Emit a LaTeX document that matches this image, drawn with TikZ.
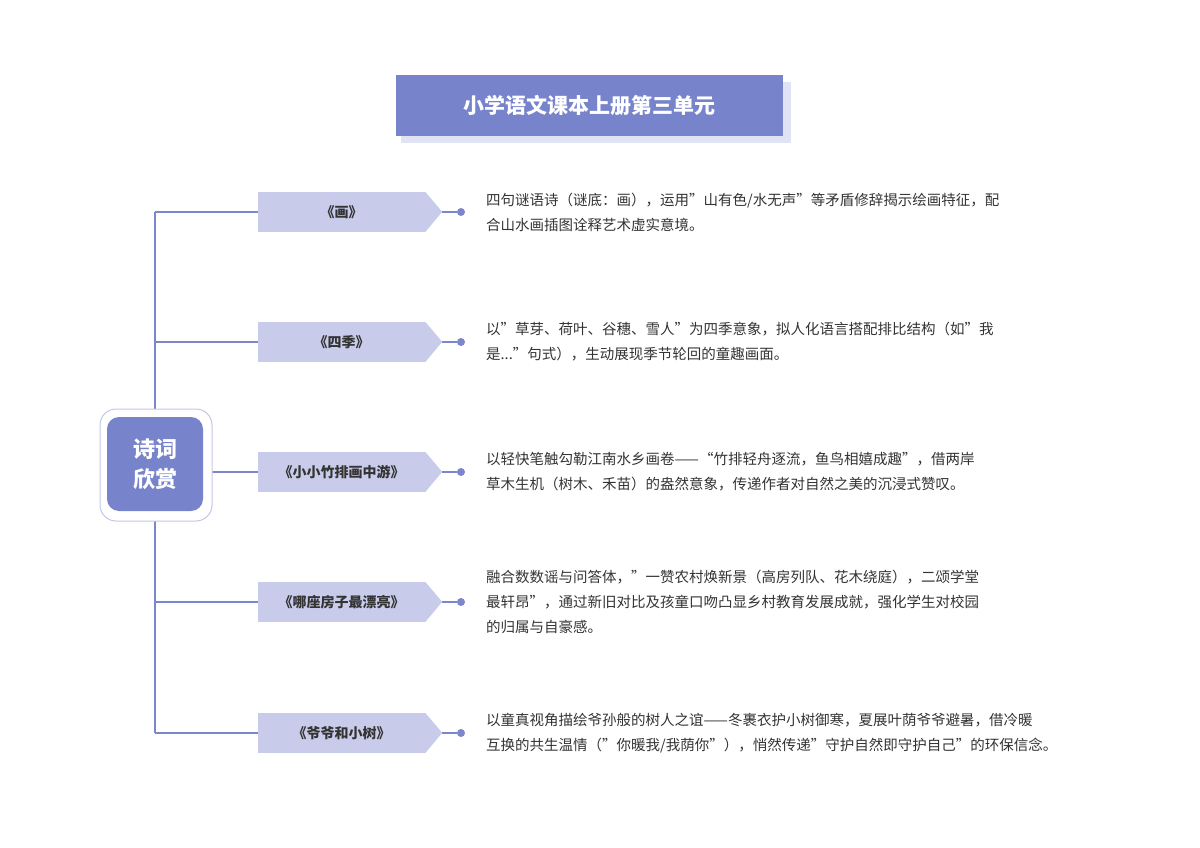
\documentclass[tikz,border=0pt]{standalone}
\usepackage{fontspec}
\setmainfont{Noto Sans CJK SC}
\usetikzlibrary{positioning}
\definecolor{mainblue}{HTML}{7783CB}
\definecolor{tagblue}{HTML}{C8CCEA}
\definecolor{lineblue}{HTML}{7C86CC}
\definecolor{shadowblue}{HTML}{E0E3F4}
\definecolor{textgray}{HTML}{333333}

\begin{document}
\begin{tikzpicture}[x=1pt,y=-1pt,
  title box/.style={fill=mainblue,text=white,font=\bfseries\fontsize{21}{25}\selectfont,
    minimum width=387pt,minimum height=61pt,inner sep=0pt},
  root box/.style={fill=mainblue,text=white,rounded corners=12pt,font=\bfseries\fontsize{22}{30}\selectfont,
    minimum width=96pt,minimum height=94pt,align=center,inner sep=0pt},
  tag box/.style={fill=tagblue,text=textgray,font=\bfseries\fontsize{14}{16}\selectfont,
    minimum width=167pt,minimum height=40pt,inner sep=0pt},
  desc/.style={anchor=west,align=left,text=textgray,font=\fontsize{14.5}{25}\selectfont,inner sep=0pt},
  branch/.style={draw=lineblue,line width=1.5pt}]
  \useasboundingbox (0,0) rectangle (1200,848);
  % title
  \fill[shadowblue] (401,82) rectangle (791,143);
  \node[title box] (title) at (589.5,105.5) {小学语文课本上册第三单元};
  % trunk
  \coordinate (top) at (155,212);
  \coordinate (bottom) at (155,733);
  \draw[branch] (top) -- (bottom);
  % branches
  \foreach \i/\y/\name/\txt in {
    1/212/《画》/{四句谜语诗（谜底：画），运用"山有色/水无声"等矛盾修辞揭示绘画特征，配\\合山水画插图诠释艺术虚实意境。},
    2/342/《四季》/{以"草芽、荷叶、谷穗、雪人"为四季意象，拟人化语言搭配排比结构（如"我\\是..."句式），生动展现季节轮回的童趣画面。},
    3/472/《小小竹排画中游》/{以轻快笔触勾勒江南水乡画卷——“竹排轻舟逐流，鱼鸟相嬉成趣”，借两岸\\草木生机（树木、禾苗）的盎然意象，传递作者对自然之美的沉浸式赞叹。},
    4/602/《哪座房子最漂亮》/{融合数数谣与问答体，"一赞农村焕新景（高房列队、花木绕庭），二颂学堂\\最轩昂"，通过新旧对比及孩童口吻凸显乡村教育发展成就，强化学生对校园\\的归属与自豪感。},
    5/733/《爷爷和小树》/{以童真视角描绘爷孙般的树人之谊——冬裹衣护小树御寒，夏展叶荫爷爷避暑，借冷暖\\互换的共生温情（"你暖我/我荫你"），悄然传递"守护自然即守护自己"的环保信念。}} {
    \node[tag box] (tag\i) at (341.5,\y) {\name};
    \fill[tagblue] (tag\i.north east) -- ++(17,20) -- (tag\i.south east) -- cycle;
    \coordinate (tip\i) at ([xshift=17pt]tag\i.east);
    \coordinate (fork\i) at (155,\y);
    \node[circle,fill=lineblue,inner sep=0pt,minimum size=8pt] (dot\i) at (461,\y) {};
    \draw[branch] (fork\i) -- (tag\i.west);
    \draw[branch] (tip\i) -- (dot\i);
    \node[desc] (desc\i) at (486,\y) {\txt};
  }
  % root
  \draw[draw=mainblue!45,line width=1pt,fill=white,rounded corners=16pt] (100,409) rectangle (212,521);
  \node[root box] (root) at (155,464) {诗词\\欣赏};
\end{tikzpicture}
\end{document}
